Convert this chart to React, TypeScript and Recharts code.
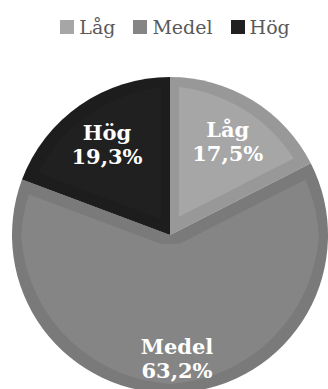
import { PieChart, Pie, Cell, Legend } from "recharts";

const categories = ["Låg", "Medel", "Hög"];
const shares = [17.5, 63.2, 19.3];
const colors = ["#a6a6a6", "#858585", "#202020"];

const data = categories.map((name, i) => ({ name, value: shares[i] }));

const RAD = Math.PI / 180;
const LEGEND_H = 22;

function renderLabel(props: any) {
  const { cx, cy, midAngle, outerRadius, percent, name, value } = props;
  // the big slice sits its label a bit further out, like the original
  const r = outerRadius * (percent > 0.5 ? 0.78 : 0.7);
  const x = cx + r * Math.cos(-midAngle * RAD);
  const y = cy + r * Math.sin(-midAngle * RAD);
  return (
    <text
      x={x}
      y={y}
      fill="#ffffff"
      textAnchor="middle"
      fontFamily="'DejaVu Serif', serif"
      fontWeight="bold"
      fontSize={21}
    >
      <tspan x={x} dy={-4}>{name}</tspan>
      <tspan x={x} dy={24}>{value.toFixed(1).replace(".", ",") + "%"}</tspan>
    </text>
  );
}

function LegendContent({ payload }: any) {
  const items = [...(payload ?? [])].sort(
    (a: any, b: any) => categories.indexOf(a.value) - categories.indexOf(b.value)
  );
  return (
    <div style={{ display: "flex", justifyContent: "center", gap: 18, paddingLeft: 22, height: LEGEND_H }}>
      {items.map((p: any) => (
        <div key={p.value} style={{ display: "flex", alignItems: "center", gap: 5 }}>
          <span style={{ width: 14, height: 14, background: p.color, display: "inline-block" }} />
          <span style={{ fontFamily: "'DejaVu Serif', serif", fontSize: 19, color: "#595959", lineHeight: "22px" }}>
            {p.value}
          </span>
        </div>
      ))}
    </div>
  );
}

export default function App() {
  return (
    <div style={{ position: "absolute", left: 0, top: 0, background: "#fff" }}>
      <PieChart width={328} height={389} margin={{ top: 0, right: 0, bottom: 0, left: 0 }}>
        <defs>
          <filter id="inset" x="-5%" y="-5%" width="110%" height="110%" colorInterpolationFilters="sRGB">
            <feComponentTransfer in="SourceGraphic" result="dark">
              <feFuncR type="linear" slope="0.92" />
              <feFuncG type="linear" slope="0.92" />
              <feFuncB type="linear" slope="0.92" />
            </feComponentTransfer>
            <feMorphology in="SourceGraphic" operator="erode" radius="9" result="inner" />
            <feMerge>
              <feMergeNode in="dark" />
              <feMergeNode in="inner" />
            </feMerge>
          </filter>
        </defs>
        <Legend
          verticalAlign="top"
          content={<LegendContent />}
          wrapperStyle={{ top: 16, left: 0, width: 328 }}
        />
        <Pie
          data={data}
          dataKey="value"
          nameKey="name"
          cx={170}
          cy={235 - LEGEND_H}
          outerRadius={158}
          startAngle={90}
          endAngle={-270}
          stroke="none"
          labelLine={false}
          label={renderLabel}
          isAnimationActive={false}
        >
          {data.map((d, i) => (
            <Cell key={d.name} fill={colors[i]} filter="url(#inset)" />
          ))}
        </Pie>
      </PieChart>
    </div>
  );
}
